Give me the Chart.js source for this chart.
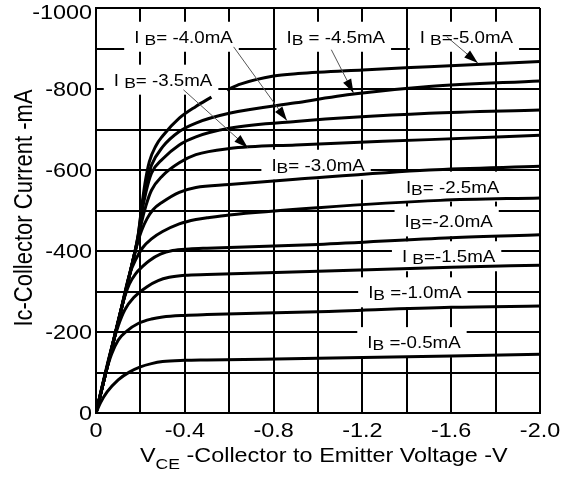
<!DOCTYPE html>
<html lang="en">
<head>
<meta charset="UTF-8">
<title>Collector Characteristics</title>
<script src="https://cdn.jsdelivr.net/npm/chart.js"></script>
<style>
  html, body { margin: 0; padding: 0; background: #fff; }
  canvas { display: block; }
</style>
</head>
<body>
<canvas id="ic-chart" width="566" height="477"></canvas>
<script>
// base current of each curve (mA)
const baseCurrents = [-0.5, -1.0, -1.5, -2.0, -2.5, -3.0, -3.5, -4.0, -4.5, -5.0];

// curve points as [VCE (V), IC (mA)]
const ib05 = [[0, 0], [-0.02, -25], [-0.05, -52], [-0.1, -82], [-0.15, -101], [-0.2, -114], [-0.25, -122], [-0.3, -127], [-0.4, -130], [-0.5, -131], [-1.0, -135], [-1.6, -141], [-2.0, -145]];
const ib10 = [[0, 0], [-0.04, -92], [-0.07, -145], [-0.1, -180], [-0.14, -203], [-0.19, -221], [-0.25, -232], [-0.3, -237], [-0.4, -241], [-0.5, -243], [-1.0, -250], [-1.6, -261], [-2.0, -264]];
const ib15 = [[0, 0], [-0.06, -140], [-0.1, -215], [-0.13, -255], [-0.17, -285], [-0.23, -312], [-0.28, -327], [-0.33, -335], [-0.4, -340], [-0.5, -342], [-1.0, -350], [-1.6, -360], [-2.0, -365]];
const ib20 = [[0, 0], [-0.07, -160], [-0.12, -270], [-0.15, -318], [-0.18, -345], [-0.21, -362], [-0.24, -376], [-0.29, -392], [-0.345, -401], [-0.42, -405], [-0.5, -407], [-1.0, -416], [-1.6, -433], [-2.0, -440]];
const ib25 = [[0, 0], [-0.1, -225], [-0.15, -340], [-0.18, -380], [-0.21, -408], [-0.25, -430], [-0.3, -448], [-0.375, -467], [-0.45, -478], [-0.5, -482], [-0.6, -489], [-1.0, -507], [-1.55, -525], [-2.0, -531]];
const ib30 = [[0, 0], [-0.1, -225], [-0.17, -385], [-0.19, -425], [-0.205, -450], [-0.23, -480], [-0.257, -502], [-0.3, -521], [-0.375, -545], [-0.45, -557], [-0.6, -564], [-0.9, -577], [-1.5, -600], [-2.0, -609]];
const ib35 = [[0, 0], [-0.1, -225], [-0.17, -385], [-0.19, -430], [-0.205, -470], [-0.225, -512], [-0.25, -550], [-0.3, -586], [-0.375, -618], [-0.45, -638], [-0.6, -653], [-0.9, -662], [-1.5, -675], [-2.0, -686]];
const ib40 = [[0, 0], [-0.1, -225], [-0.17, -385], [-0.19, -435], [-0.205, -490], [-0.225, -545], [-0.25, -592], [-0.3, -627], [-0.375, -662], [-0.45, -682], [-0.6, -703], [-0.9, -720], [-1.5, -740], [-2.0, -748]];
const ib45 = [[0, 0], [-0.1, -225], [-0.17, -385], [-0.19, -438], [-0.205, -500], [-0.225, -565], [-0.25, -612], [-0.3, -657], [-0.375, -695], [-0.45, -716], [-0.6, -740], [-0.9, -766], [-1.17, -788], [-1.5, -806], [-2.0, -820]];
// the -5.0mA trace is broken just past the knee
const ib50 = [[0, 0], [-0.1, -225], [-0.17, -385], [-0.19, -440], [-0.205, -505], [-0.22, -565], [-0.24, -620], [-0.27, -660], [-0.3, -684], [-0.375, -728], [-0.45, -757], [-0.52, -780], [-0.555, null], [-0.59, -798], [-0.65, -812], [-0.8, -832], [-0.91, -838], [-1.2, -847], [-1.5, -855], [-2.0, -868]];
const curves = [ib05, ib10, ib15, ib20, ib25, ib30, ib35, ib40, ib45, ib50];

// curve labels: I, subscript B, rest
const labelParts = [
  ['I', 'B', ' =-0.5mA'],
  ['I', 'B', ' =-1.0mA'],
  ['I ', 'B', '=-1.5mA'],
  ['I', 'B', '=-2.0mA'],
  ['I', 'B', '= -2.5mA'],
  ['I', 'B', '= -3.0mA'],
  ['I ', 'B', '= -3.5mA'],
  ['I ', 'B', '= -4.0mA'],
  ['I', 'B', ' = -4.5mA'],
  ['I ', 'B', '=-5.0mA']
];
// label anchor (left edge, text middle) in chart units
const labelVce = [-1.222, -1.226, -1.378, -1.39, -1.396, -0.79, -0.08, -0.172, -0.858, -1.458];
const labelIc = [-175, -298, -387, -473, -559, -613, -823, -929, -929, -929];

// leader arrows for the upper curves: from label to curve
const arrowCurves = [-3.5, -4.0, -4.5, -5.0];
const arrowFromVce = [-0.394, -0.62, -1.06, -1.58];
const arrowFromIc = [-798, -904, -897, -929];
const arrowToVce = [-0.684, -0.86, -1.16, -1.72];
const arrowToIc = [-655, -722, -790, -864];

// axis ticks
const xTickValues = [0, -0.4, -0.8, -1.2, -1.6, -2.0];
const xTickLabels = ['0', '-0.4', '-0.8', '-1.2', '-1.6', '-2.0'];
const yTickValues = [0, -200, -400, -600, -800, -1000];
const yTickLabels = ['0', '-200', '-400', '-600', '-800', '-1000'];

const FONT = '"Liberation Sans", Arial, sans-serif';
const STRETCH = 1.17;

function drawText(ctx, text, x, y, size, align) {
  ctx.save();
  ctx.font = size + 'px ' + FONT;
  ctx.translate(x, y);
  ctx.scale(STRETCH, 1);
  ctx.textAlign = align;
  ctx.textBaseline = 'alphabetic';
  ctx.fillStyle = '#000';
  ctx.fillText(text, 0, 0);
  ctx.restore();
}

function textWidth(ctx, text, size) {
  ctx.save();
  ctx.font = size + 'px ' + FONT;
  const w = ctx.measureText(text).width * STRETCH;
  ctx.restore();
  return w;
}

function labelWidth(ctx, parts) {
  return textWidth(ctx, parts[0], 16) + textWidth(ctx, parts[1], 15) + textWidth(ctx, parts[2], 16);
}

function drawArrow(ctx, x0, y0, x1, y1) {
  ctx.save();
  ctx.strokeStyle = '#555';
  ctx.lineWidth = 1;
  ctx.beginPath();
  ctx.moveTo(x0, y0);
  ctx.lineTo(x1, y1);
  ctx.stroke();
  const a = Math.atan2(y1 - y0, x1 - x0);
  const len = 14, half = 4.5;
  const bx = x1 - len * Math.cos(a), by = y1 - len * Math.sin(a);
  ctx.fillStyle = '#000';
  ctx.beginPath();
  ctx.moveTo(x1, y1);
  ctx.lineTo(bx + half * Math.sin(a), by - half * Math.cos(a));
  ctx.lineTo(bx - half * Math.sin(a), by + half * Math.cos(a));
  ctx.closePath();
  ctx.fill();
  ctx.restore();
}

const annotations = {
  id: 'annotations',
  // white boxes behind the labels knock out the grid, curves stay on top
  beforeDatasetsDraw(chart) {
    const { ctx, scales: { x, y } } = chart;
    ctx.save();
    ctx.fillStyle = '#fff';
    labelParts.forEach((parts, i) => {
      const left = x.getPixelForValue(labelVce[i]);
      const mid = y.getPixelForValue(labelIc[i]);
      const w = labelWidth(ctx, parts);
      ctx.fillRect(left - 10, mid - 15, w + 16, 30);
    });
    ctx.restore();
  },
  afterDatasetsDraw(chart) {
    const { ctx, scales: { x, y } } = chart;
    arrowCurves.forEach((ib, i) => {
      drawArrow(ctx,
        x.getPixelForValue(arrowFromVce[i]), y.getPixelForValue(arrowFromIc[i]),
        x.getPixelForValue(arrowToVce[i]), y.getPixelForValue(arrowToIc[i]));
    });
    labelParts.forEach((parts, i) => {
      let px = x.getPixelForValue(labelVce[i]);
      const base = y.getPixelForValue(labelIc[i]) + 6;
      drawText(ctx, parts[0], px, base, 16, 'left');
      px += textWidth(ctx, parts[0], 16);
      drawText(ctx, parts[1], px, base + 2, 15, 'left');
      px += textWidth(ctx, parts[1], 15);
      drawText(ctx, parts[2], px, base, 16, 'left');
    });
  },
  afterDraw(chart) {
    const { ctx, chartArea, scales: { x, y } } = chart;
    xTickValues.forEach((v, i) => {
      drawText(ctx, xTickLabels[i], x.getPixelForValue(v), chartArea.bottom + 24, 20, 'center');
    });
    yTickValues.forEach((v, i) => {
      const base = Math.max(y.getPixelForValue(v) + 7, 19);
      drawText(ctx, yTickLabels[i], chartArea.left - 4, base, 20, 'right');
    });

    // x axis title with subscript CE
    let tx = chartArea.left + 44;
    const tb = 462;
    drawText(ctx, 'V', tx, tb, 20, 'left');
    tx += textWidth(ctx, 'V', 20);
    drawText(ctx, 'CE', tx, tb + 7, 15, 'left');
    tx += textWidth(ctx, 'CE', 15);
    drawText(ctx, ' -Collector to Emitter Voltage -V', tx, tb, 20, 'left');

    // y axis title, rotated
    ctx.save();
    ctx.translate(32, 208);
    ctx.scale(STRETCH, 1);
    ctx.rotate(-Math.PI / 2);
    ctx.font = '22px ' + FONT;
    ctx.textAlign = 'center';
    ctx.textBaseline = 'alphabetic';
    ctx.fillStyle = '#000';
    ctx.fillText('Ic-Collector Current -mA', 0, 0);
    ctx.restore();
  }
};

const datasets = curves.map((pts, i) => ({
  label: 'IB=' + baseCurrents[i] + 'mA',
  data: pts.map(p => ({ x: p[0], y: p[1] })),
  borderColor: '#000',
  borderWidth: 3,
  pointRadius: 0,
  fill: false,
  spanGaps: false,
  cubicInterpolationMode: 'monotone'
}));

new Chart(document.getElementById('ic-chart').getContext('2d'), {
  type: 'line',
  data: { datasets: datasets },
  options: {
    responsive: false,
    animation: false,
    layout: { padding: { top: 8, right: 26, left: 0, bottom: 0 } },
    plugins: {
      legend: { display: false },
      tooltip: { enabled: false }
    },
    scales: {
      x: {
        type: 'linear',
        min: -2,
        max: 0,
        reverse: true,
        ticks: { stepSize: 0.2, display: false },
        grid: { color: '#000', lineWidth: 2, drawTicks: false },
        border: { color: '#000', width: 2 },
        afterFit(scale) { scale.height = 64; }
      },
      y: {
        type: 'linear',
        min: -1000,
        max: 0,
        reverse: true,
        ticks: { stepSize: 100, display: false },
        grid: { color: '#000', lineWidth: 2, drawTicks: false },
        border: { color: '#000', width: 2 },
        afterFit(scale) { scale.width = 96; }
      }
    }
  },
  plugins: [annotations]
});
</script>
</body>
</html>
